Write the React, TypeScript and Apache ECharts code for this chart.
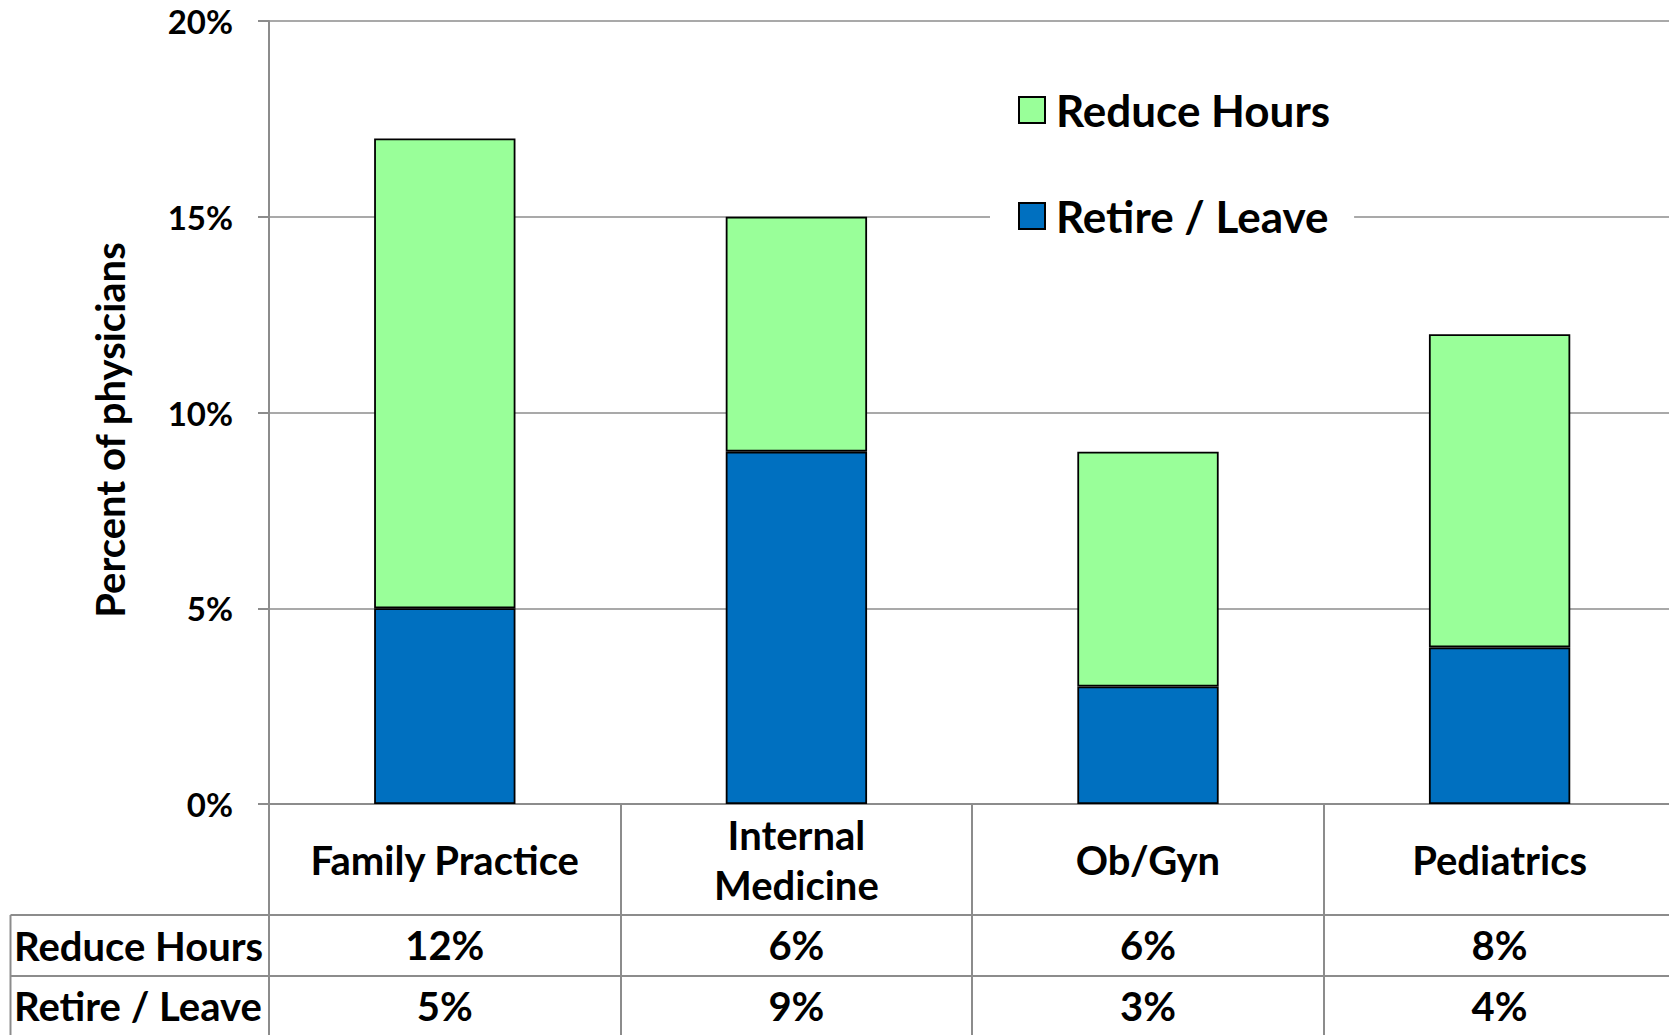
import React, { useEffect, useRef } from "react";
import * as echarts from "echarts";

const categories = ["Family Practice", "Internal\nMedicine", "Ob/Gyn", "Pediatrics"];
const reduceHours = [12, 6, 6, 8];
const retireLeave = [5, 9, 3, 4];
const seriesNames = ["Reduce Hours", "Retire / Leave"];
const yAxisTitle = "Percent of physicians";

const FONT = "Lato, 'Noto Sans', sans-serif";
const GRAY = "#8c8c8c";
const GREEN = "#99ff99";
const BLUE = "#0070c0";

const W = 1669;
const H = 1035;
const CHART_W = 1690;
const GRID_LEFT = 269;
const GRID_TOP = 21;
const GRID_BOTTOM_Y = 804;
const CAT_W = 351.6;
const TABLE_LEFT = 10.5;
const ROW1_Y = 915;
const ROW2_Y = 976;

export default function App() {
  const ref = useRef<HTMLDivElement>(null);
  useEffect(() => {
    if (!ref.current) return;
    const chart = echarts.init(ref.current, null, { renderer: "svg" });
    const pct = (v: number) => `${v}%`;
    const tableFont = { fontFamily: FONT, fontWeight: "bold" as const, fontSize: 40, color: "#000" };
    chart.setOption({
      animation: false,
      backgroundColor: "#fff",
      grid: {
        left: GRID_LEFT,
        top: GRID_TOP,
        width: CAT_W * categories.length,
        height: GRID_BOTTOM_Y - GRID_TOP,
        containLabel: false,
      },
      legend: {
        orient: "vertical",
        left: 990,
        top: 73,
        data: [seriesNames[0], seriesNames[1]],
        backgroundColor: "#fff",
        padding: [12, 24, 12, 28],
        itemWidth: 26,
        itemHeight: 26,
        itemGap: 56,
        icon: "rect",
        textStyle: {
          fontFamily: FONT,
          fontWeight: "bold",
          fontSize: 44,
          color: "#000",
          lineHeight: 50,
          padding: [0, 0, 0, 6],
        },
      },
      xAxis: [
        {
          type: "category",
          data: categories,
          position: "bottom",
          axisLine: { show: true, lineStyle: { color: GRAY, width: 2 } },
          axisTick: { show: true, length: H - GRID_BOTTOM_Y, lineStyle: { color: GRAY, width: 2 } },
          axisLabel: { ...tableFont, interval: 0, margin: 56, verticalAlign: "middle", lineHeight: 50 },
          splitLine: { show: false },
        },
        {
          type: "category",
          data: reduceHours.map(pct),
          position: "bottom",
          axisLine: { show: false },
          axisTick: { show: false },
          axisLabel: { ...tableFont, interval: 0, margin: 141, verticalAlign: "middle" },
        },
        {
          type: "category",
          data: retireLeave.map(pct),
          position: "bottom",
          axisLine: { show: false },
          axisTick: { show: false },
          axisLabel: { ...tableFont, interval: 0, margin: 202, verticalAlign: "middle" },
        },
      ],
      yAxis: {
        type: "value",
        min: 0,
        max: 20,
        interval: 5,
        axisLine: { show: true, lineStyle: { color: GRAY, width: 2 } },
        axisTick: { show: true, length: 11, lineStyle: { color: GRAY, width: 2 } },
        axisLabel: {
          formatter: "{value}%",
          fontFamily: FONT,
          fontWeight: "bold",
          fontSize: 33,
          color: "#000",
          margin: 36,
        },
        splitLine: { show: true, lineStyle: { color: GRAY, width: 1.5 } },
      },
      series: [
        {
          name: seriesNames[1],
          type: "bar",
          stack: "total",
          xAxisIndex: 0,
          data: retireLeave,
          barWidth: "40.2%",
          itemStyle: { color: BLUE, borderColor: "#000", borderWidth: 1.8 },
        },
        {
          name: seriesNames[0],
          type: "bar",
          stack: "total",
          xAxisIndex: 0,
          data: reduceHours,
          barWidth: "40.2%",
          itemStyle: { color: GREEN, borderColor: "#000", borderWidth: 1.8 },
        },
      ],
      graphic: [
        {
          type: "line",
          shape: { x1: TABLE_LEFT, y1: ROW1_Y, x2: CHART_W, y2: ROW1_Y },
          style: { stroke: GRAY, lineWidth: 2 },
          silent: true,
        },
        {
          type: "line",
          shape: { x1: TABLE_LEFT, y1: ROW2_Y, x2: CHART_W, y2: ROW2_Y },
          style: { stroke: GRAY, lineWidth: 2 },
          silent: true,
        },
        {
          type: "line",
          shape: { x1: TABLE_LEFT, y1: ROW1_Y, x2: TABLE_LEFT, y2: H },
          style: { stroke: GRAY, lineWidth: 2 },
          silent: true,
        },
        {
          type: "text",
          x: 14,
          y: (ROW1_Y + ROW2_Y) / 2,
          style: { text: seriesNames[0], ...tableFont, fill: "#000", verticalAlign: "middle", align: "left" },
          silent: true,
        },
        {
          type: "text",
          x: 14,
          y: (ROW2_Y + H) / 2,
          style: { text: seriesNames[1], ...tableFont, fill: "#000", verticalAlign: "middle", align: "left" },
          silent: true,
        },
        {
          type: "text",
          x: 110,
          y: 430,
          rotation: Math.PI / 2,
          style: {
            text: yAxisTitle,
            fontFamily: FONT,
            fontWeight: "bold",
            fontSize: 40,
            fill: "#000",
            align: "center",
            verticalAlign: "middle",
          },
          silent: true,
        },
      ],
    });
    return () => chart.dispose();
  }, []);
  return (
    <div
      style={{
        position: "absolute",
        left: 0,
        top: 0,
        width: W,
        height: H,
        overflow: "hidden",
        background: "#fff",
      }}
    >
      <div ref={ref} style={{ width: CHART_W, height: H }} />
    </div>
  );
}
